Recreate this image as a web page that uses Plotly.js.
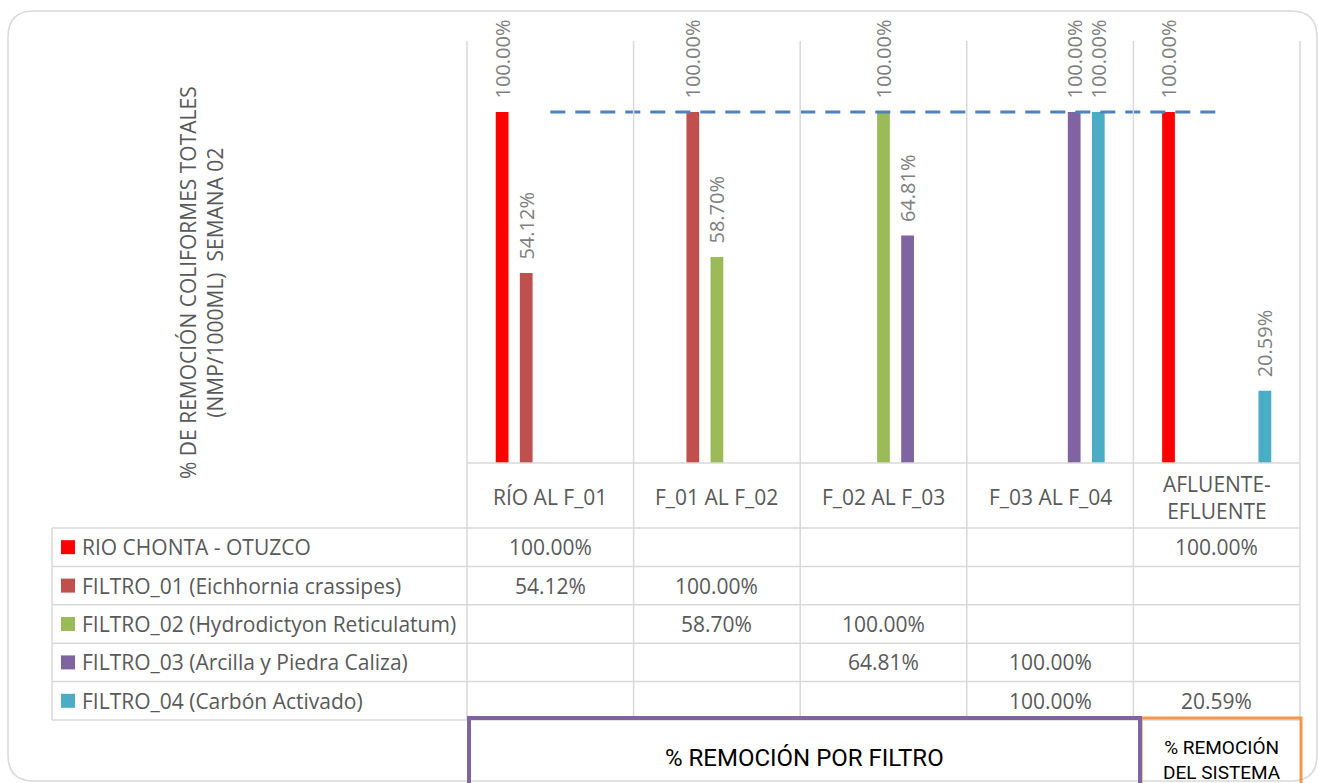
<!DOCTYPE html>
<html>
<head>
<meta charset="utf-8">
<script src="https://cdn.plot.ly/plotly-3.0.1.min.js"></script>
<style>
  html, body { margin: 0; padding: 0; background: #ffffff; }
  #chart { width: 1318px; height: 783px; }
</style>
</head>
<body>
<div id="chart"></div>
<script>
// ---------- DATA ----------
const categories = ['RÍO AL F_01', 'F_01 AL F_02', 'F_02 AL F_03', 'F_03 AL F_04', 'AFLUENTE-EFLUENTE'];
const headerLabels = ['RÍO AL F_01', 'F_01 AL F_02', 'F_02 AL F_03', 'F_03 AL F_04', 'AFLUENTE-<br>EFLUENTE'];
const seriesNames = [
  'RIO CHONTA - OTUZCO',
  'FILTRO_01 (Eichhornia crassipes)',
  'FILTRO_02 (Hydrodictyon Reticulatum)',
  'FILTRO_03 (Arcilla y Piedra Caliza)',
  'FILTRO_04 (Carbón Activado)'
];
const rioChonta = [100, null, null, null, 100];
const filtro01  = [54.12, 100, null, null, null];
const filtro02  = [null, 58.70, 100, null, null];
const filtro03  = [null, null, 64.81, 100, null];
const filtro04  = [null, null, null, 100, 20.59];
const referencia = [100, 100, 100, 100, 100];
const yTitle = '% DE REMOCIÓN COLIFORMES TOTALES<br>(NMP/1000ML)  SEMANA 02';
const boxLabelFiltro = '% REMOCIÓN POR FILTRO';
const boxLabelSistema = '% REMOCIÓN<br>DEL SISTEMA';

// ---------- STYLE ----------
const seriesColors = ['#FF0000', '#C0504D', '#9BBB59', '#8064A2', '#4BACC6'];
const allSeries = [rioChonta, filtro01, filtro02, filtro03, filtro04];
const FONT = 'Open Sans, Lato, sans-serif';
const NARROW = 'Liberation Sans Narrow, Roboto, sans-serif';
const TXT = '#595959';
const GRID = '#D9D9D9';

// plot-area pixel frame
const L = 467, R = 1300, T = 41, B = 463;
const W = R - L, H = B - T;
const fx = px => (px - L) / W;
const fy = py => (B - py) / H;

const traces = allSeries.map((vals, i) => ({
  type: 'bar',
  name: seriesNames[i],
  x: categories,
  y: vals,
  marker: { color: seriesColors[i] },
  texttemplate: '\u00a0\u00a0%{y:.2f}%',
  textposition: 'outside',
  textangle: -90,
  constraintext: 'none',
  cliponaxis: false,
  textfont: { family: FONT, size: 20, color: '#808080' },
  hoverinfo: 'skip'
}));

traces.push({
  type: 'scatter',
  mode: 'lines',
  x: categories,
  y: referencia,
  line: { color: '#4F81BD', width: 3, dash: '15px,10px' },
  hoverinfo: 'skip',
  showlegend: false
});

// ---------- TABLE / DECORATION ----------
const shapes = [];
const annotations = [];
const line = (x0, y0, x1, y1, color, width) => shapes.push({
  type: 'line', xref: 'paper', yref: 'paper',
  x0: fx(x0), y0: fy(y0), x1: fx(x1), y1: fy(y1),
  line: { color: color || GRID, width: width || 1.5 }
});

// outer rounded border
(function () {
  const x0 = 8, x1 = 1317, y0 = 11, y1 = 781, r = 26;
  const P = (x, y) => fx(x) + ',' + fy(y);
  shapes.push({
    type: 'path', xref: 'paper', yref: 'paper',
    path: 'M' + P(x0 + r, y0) + ' L' + P(x1 - r, y0) + ' Q' + P(x1, y0) + ' ' + P(x1, y0 + r) +
          ' L' + P(x1, y1 - r) + ' Q' + P(x1, y1) + ' ' + P(x1 - r, y1) +
          ' L' + P(x0 + r, y1) + ' Q' + P(x0, y1) + ' ' + P(x0, y1 - r) +
          ' L' + P(x0, y0 + r) + ' Q' + P(x0, y0) + ' ' + P(x0 + r, y0) + ' Z',
    line: { color: '#D9D9D9', width: 1.5 }
  });
})();

const nCat = categories.length;
const colW = W / nCat;
const rowTop = 528, rowH = 38.4, nRows = seriesNames.length;
const tableBottom = rowTop + rowH * nRows;

// vertical lines
for (let i = 0; i <= nCat; i++) line(L + i * colW, T, L + i * colW, tableBottom);
line(52, rowTop, 52, tableBottom);
// axis line / header top
line(L, B, R, B);
// row lines
for (let k = 0; k <= nRows; k++) line(52, rowTop + k * rowH, R, rowTop + k * rowH);

// header labels
headerLabels.forEach((t, i) => annotations.push({
  xref: 'paper', yref: 'paper', x: fx(L + (i + 0.5) * colW), y: fy(497),
  text: t, showarrow: false, xanchor: 'center', yanchor: 'middle',
  font: { family: FONT, size: 21, color: TXT }
}));

// rows: legend keys, names, values
seriesNames.forEach((name, s) => {
  const cy = rowTop + (s + 0.5) * rowH;
  shapes.push({
    type: 'rect', xref: 'paper', yref: 'paper',
    x0: fx(61), x1: fx(75), y0: fy(cy - 7), y1: fy(cy + 7),
    fillcolor: seriesColors[s], line: { width: 0 }
  });
  annotations.push({
    xref: 'paper', yref: 'paper', x: fx(80), y: fy(cy),
    text: name, showarrow: false, xanchor: 'left', yanchor: 'middle',
    font: { family: FONT, size: 21, color: TXT }
  });
  allSeries[s].forEach((v, i) => {
    if (v === null) return;
    annotations.push({
      xref: 'paper', yref: 'paper', x: fx(L + (i + 0.5) * colW), y: fy(cy),
      text: v.toFixed(2) + '%', showarrow: false, xanchor: 'center', yanchor: 'middle',
      font: { family: FONT, size: 21, color: TXT }
    });
  });
});

// bottom boxes
shapes.push({
  type: 'rect', xref: 'paper', yref: 'paper',
  x0: fx(1141), x1: fx(1301), y0: fy(718), y1: fy(800),
  line: { color: '#F79646', width: 3 }
});
shapes.push({
  type: 'rect', xref: 'paper', yref: 'paper',
  x0: fx(469), x1: fx(1140), y0: fy(718), y1: fy(800),
  line: { color: '#8064A2', width: 4 }
});
annotations.push({
  xref: 'paper', yref: 'paper', x: fx(804), y: fy(758),
  text: boxLabelFiltro, showarrow: false, xanchor: 'center', yanchor: 'middle',
  font: { family: NARROW, size: 24, color: '#000000' }
});
annotations.push({
  xref: 'paper', yref: 'paper', x: fx(1222), y: fy(760),
  text: boxLabelSistema, showarrow: false, xanchor: 'center', yanchor: 'middle',
  font: { family: NARROW, size: 19, color: '#000000' }
});

// y-axis title
annotations.push({
  xref: 'paper', yref: 'paper', x: fx(201), y: fy(283),
  text: yTitle, showarrow: false, textangle: -90, xanchor: 'center', yanchor: 'middle',
  font: { family: FONT, size: 21, color: TXT }
});

const layout = {
  width: 1318, height: 783,
  margin: { l: L, r: 1318 - R, t: T, b: 783 - B },
  paper_bgcolor: '#ffffff', plot_bgcolor: '#ffffff',
  barmode: 'group', bargap: 0.277, bargroupgap: 0.47,
  showlegend: false,
  xaxis: { range: [-0.5, 4.5], showticklabels: false, showgrid: false, zeroline: false, showline: false, fixedrange: true },
  yaxis: { range: [0, 120.2], showticklabels: false, showgrid: false, zeroline: false, showline: false, fixedrange: true },
  shapes: shapes,
  annotations: annotations
};

Plotly.newPlot('chart', traces, layout, { displayModeBar: false, staticPlot: true });
</script>
</body>
</html>
